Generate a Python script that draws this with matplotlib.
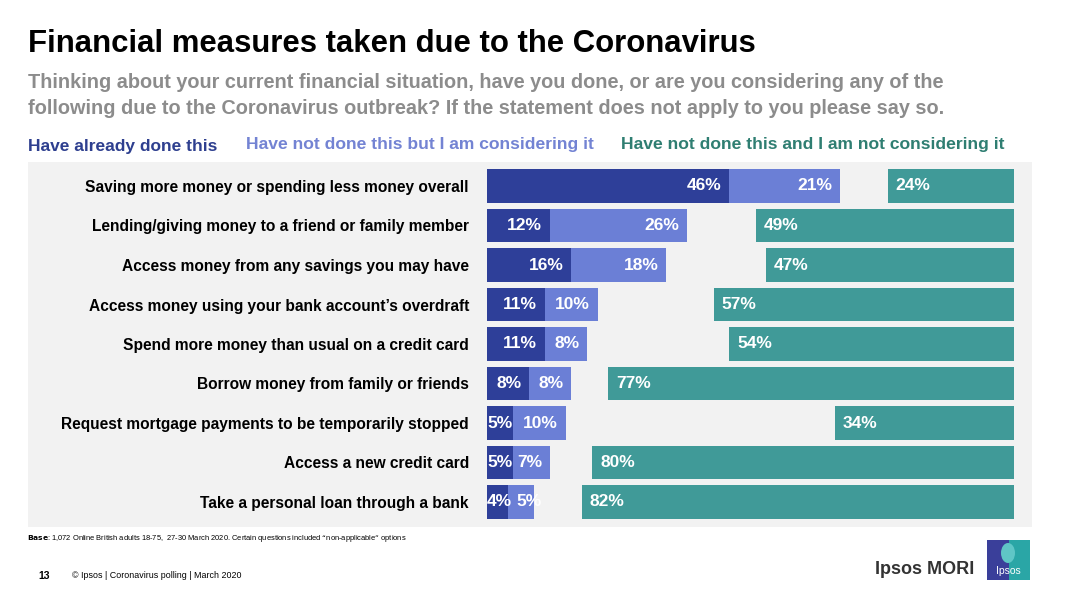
import numpy as np
import matplotlib.pyplot as plt
from matplotlib.patches import Rectangle, Ellipse

plt.rcParams["font.family"] = ["Liberation Sans", "DejaVu Sans"]

categories = [
    "Saving more money or spending less money overall",
    "Lending/giving money to a friend or family member",
    "Access money from any savings you may have",
    "Access money using your bank account\u2019s overdraft",
    "Spend more money than usual on a credit card",
    "Borrow money from family or friends",
    "Request mortgage payments to be temporarily stopped",
    "Access a new credit card",
    "Take a personal loan through a bank",
]
done = [46, 12, 16, 11, 11, 8, 5, 5, 4]
considering = [21, 26, 18, 10, 8, 8, 10, 7, 5]
not_considering = [24, 49, 47, 57, 54, 77, 34, 80, 82]
series_names = [
    "Have already done this",
    "Have not done this but I am considering it",
    "Have not done this and I am not considering it",
]

c_done = "#2e3f99"
c_cons = "#6b7fd6"
c_not = "#409a98"

W, H = 1068, 601
fig = plt.figure(figsize=(W / 100, H / 100), dpi=100)

def fx(px):
    return px / W

def fy(py):
    return 1 - py / H

# gray panel
fig.patches.append(Rectangle((fx(28), fy(527)), fx(1032) - fx(28), fy(162) - fy(527),
                             transform=fig.transFigure, facecolor="#f2f2f2",
                             edgecolor="none", zorder=0))

ax = fig.add_axes([fx(487), fy(521.75), fx(1014) - fx(487), fy(166.25) - fy(521.75)])
ax.set_zorder(2)
ax.patch.set_visible(False)
y = np.arange(len(categories))
done = np.array(done)
considering = np.array(considering)
not_considering = np.array(not_considering)
h = 0.84
ax.barh(y, done, height=h, color=c_done)
ax.barh(y, considering, left=done, height=h, color=c_cons)
ax.barh(y, not_considering, left=100 - not_considering, height=h, color=c_not)
ax.set_xlim(0, 100)
ax.set_ylim(len(categories) - 0.5, -0.5)
ax.set_xticks([])
ax.set_yticks(y)
ax.set_yticklabels(categories, fontsize=11.2, fontweight="bold")
ax.tick_params(axis="y", length=0, pad=13)
for s in ax.spines.values():
    s.set_visible(False)

pad = 1.5
lab = dict(color="white", fontsize=12.5, fontweight="bold", va="center", clip_on=False)
for i in range(len(categories)):
    if done[i] < 7:
        # too narrow: label starts at the bar start
        ax.text(0, y[i], f"{done[i]}%", ha="left", **lab)
    else:
        ax.text(done[i] - pad, y[i], f"{done[i]}%", ha="right", **lab)
    if done[i] < 7 and considering[i] < 7:
        ax.text(done[i] + pad, y[i], f"{considering[i]}%", ha="left", **lab)
    else:
        ax.text(done[i] + considering[i] - pad, y[i], f"{considering[i]}%", ha="right", **lab)
    ax.text(100 - not_considering[i] + pad, y[i], f"{not_considering[i]}%", ha="left", **lab)

# titles
fig.text(fx(28), fy(44), "Financial measures taken due to the Coronavirus",
         fontsize=22.4, fontweight="bold", va="center")
fig.text(fx(28), fy(83), "Thinking about your current financial situation, have you done, or are you considering any of the",
         fontsize=14.3, fontweight="bold", color="#8c8c8c", va="center")
fig.text(fx(28), fy(108), "following due to the Coronavirus outbreak? If the statement does not apply to you please say so.",
         fontsize=14.3, fontweight="bold", color="#8c8c8c", va="center")

# legend headers
fig.text(fx(28), fy(146), series_names[0], fontsize=12.5, fontweight="bold",
         color="#2e3f8f", va="center")
fig.text(fx(246), fy(144), series_names[1], fontsize=12.6, fontweight="bold",
         color="#7383d3", va="center")
fig.text(fx(621), fy(145), series_names[2], fontsize=12.6, fontweight="bold",
         color="#2f7e72", va="center")

# footer
fig.text(fx(27), fy(539), "$\\bf{Base}$: 1,072 Online British adults 18-75,  27-30 March 2020. "
         "Certain questions included \u201cnon-applicable\u201d options",
         fontsize=5.4, va="center")
fig.text(fx(38), fy(576), "13", fontsize=7.5, fontweight="bold", va="center")
fig.text(fx(72), fy(576), "\u00a9 Ipsos | Coronavirus polling | March 2020", fontsize=6.4,
         va="center")
fig.text(fx(974), fy(569), "Ipsos MORI", fontsize=13, fontweight="bold", color="#333333",
         ha="right", va="center")

# logo
fig.patches.append(Rectangle((fx(987), fy(580)), fx(1030) - fx(987), fy(540) - fy(580),
                             transform=fig.transFigure, facecolor="#3a3f9a",
                             edgecolor="none", zorder=2))
fig.patches.append(Rectangle((fx(1009), fy(580)), fx(1030) - fx(1009), fy(540) - fy(580),
                             transform=fig.transFigure, facecolor="#2aa6a6",
                             edgecolor="none", zorder=2))
fig.patches.append(Ellipse((fx(1008), fy(553)), fx(14), fy(0) - fy(20),
                           transform=fig.transFigure, facecolor="#5fc6c6",
                           edgecolor="none", zorder=3))
fig.text(fx(1008.5), fy(571), "Ipsos", fontsize=7.5, color="white", ha="center",
         va="center", zorder=4)

fig.savefig("out.png", dpi=100)
